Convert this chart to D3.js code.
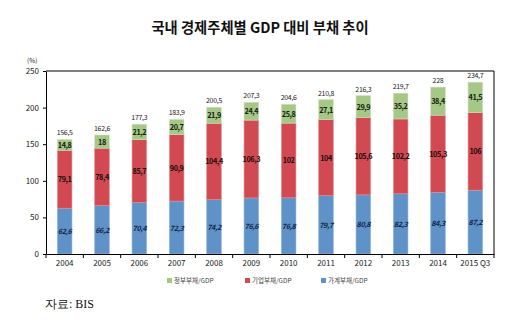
<!DOCTYPE html>
<html>
<head>
<meta charset="utf-8">
<script src="https://cdn.jsdelivr.net/npm/d3@7"></script>
<style>
body{margin:0;background:#fff;}
svg{display:block;}
</style>
</head>
<body>
<svg id="chart" width="520" height="323"></svg>
<script>
const categories = ["2004","2005","2006","2007","2008","2009","2010","2011","2012","2013","2014","2015 Q3"];
const household = [62.6,66.2,70.4,72.3,74.2,76.6,76.8,79.7,80.8,82.3,84.3,87.2];
const corporate = [79.1,78.4,85.7,90.9,104.4,106.3,102,104,105.6,102.2,105.3,106];
const government = [14.8,18,21.2,20.7,21.9,24.4,25.8,27.1,29.9,35.2,38.4,41.5];
const totals = [156.5,162.6,177.3,183.9,200.5,207.3,204.6,210.8,216.3,219.7,228,234.7];
const seriesNames = ["정부부채/GDP","기업부채/GDP","가계부채/GDP"];
const yTicks = [0,50,100,150,200,250];

const svg = d3.select("#chart");
const font = "'Noto Sans CJK KR','Noto Sans',sans-serif";
const colors = {gov:"#a6c887", corp:"#d14a52", house:"#5f92c6"};

const x = d3.scaleBand().domain(categories).range([46,494]).paddingInner(0.61).paddingOuter(0.305);
const y = d3.scaleLinear().domain([0,250]).range([254,71]);

const rows = categories.map((c,i)=>({cat:c, house:household[i], corp:corporate[i], gov:government[i], total:totals[i]}));
const stack = d3.stack().keys(["house","corp","gov"])(rows);
const fmt = v => String(v).replace(".", ",");

// title
svg.append("text").attr("x",260).attr("y",33).attr("text-anchor","middle")
  .attr("font-family",font).attr("font-weight",700).attr("font-size",14.3).attr("fill","#111")
  .text("국내 경제주체별 GDP 대비 부채 추이");

// unit
svg.append("text").attr("x",27).attr("y",63).attr("font-family",font).attr("font-size",6.5).attr("fill","#222").text("(%)");

// frame top & right
svg.append("line").attr("x1",46).attr("x2",494).attr("y1",y(250)).attr("y2",y(250)).attr("stroke","#000").attr("stroke-width",1);
svg.append("line").attr("x1",494).attr("x2",494).attr("y1",y(250)).attr("y2",y(0)).attr("stroke","#000").attr("stroke-width",1);

// bars
const keyColor = {house:colors.house, corp:colors.corp, gov:colors.gov};
const keyStroke = {house:"#8fb3d9", corp:"#e58a8f", gov:"#cfe0bd"};
stack.forEach(layer=>{
  svg.append("g").selectAll("rect").data(layer).join("rect")
    .attr("x",d=>x(d.data.cat)).attr("width",x.bandwidth())
    .attr("y",d=>y(d[1])).attr("height",d=>y(d[0])-y(d[1]))
    .attr("fill",keyColor[layer.key]).attr("stroke",keyStroke[layer.key]).attr("stroke-width",0.6);
});

// segment labels
const labelColor = {house:"#14284f", corp:"#1a0a0a", gov:"#142010"};
stack.forEach(layer=>{
  svg.append("g").selectAll("text").data(layer).join("text")
    .attr("x",d=>x(d.data.cat)+x.bandwidth()/2)
    .attr("y",d=>(y(d[0])+y(d[1]))/2 + 3)
    .attr("text-anchor","middle").attr("font-family",font).attr("font-size",7.3)
    .attr("font-weight",700).attr("letter-spacing",-0.4)
    .attr("font-style",layer.key==="house"?"italic":"normal")
    .attr("fill",labelColor[layer.key])
    .text(d=>fmt(d.data[layer.key]));
});

// totals
svg.append("g").selectAll("text").data(rows).join("text")
  .attr("x",d=>x(d.cat)+x.bandwidth()/2).attr("y",d=>y(d.total)-4)
  .attr("text-anchor","middle").attr("font-family",font).attr("font-size",7).attr("letter-spacing",-0.3)
  .attr("fill","#222").text(d=>fmt(d.total));

// y axis
const yAxis = svg.append("g").attr("transform","translate(46,0)")
  .call(d3.axisLeft(y).tickValues(yTicks).tickSize(3).tickPadding(4).tickSizeOuter(0));
yAxis.selectAll("text").attr("font-family",font).attr("font-size",8).attr("fill","#222");
yAxis.select(".domain").attr("stroke","#000");

// x axis
const xAxis = svg.append("g").attr("transform",`translate(0,${y(0)})`)
  .call(d3.axisBottom(x).tickSize(0).tickPadding(6).tickSizeOuter(0));
xAxis.select(".domain").attr("stroke","#000");
xAxis.selectAll("text").attr("font-family",font).attr("font-size",8).attr("fill","#222");
// boundary ticks
const bounds = categories.map(c=>x(c) - (x.step()-x.bandwidth())/2).concat([494]);
svg.append("g").selectAll("line").data(bounds).join("line")
  .attr("x1",d=>d).attr("x2",d=>d).attr("y1",y(0)).attr("y2",y(0)+4)
  .attr("stroke","#000").attr("stroke-width",1);

// legend
const legendX = [167,245,321];
const legendColors = [colors.gov, colors.corp, colors.house];
const lg = svg.append("g");
seriesNames.forEach((n,i)=>{
  lg.append("rect").attr("x",legendX[i]).attr("y",278).attr("width",5).attr("height",5).attr("fill",legendColors[i]);
  lg.append("text").attr("x",legendX[i]+7).attr("y",283).attr("font-family",font).attr("font-size",6.5)
    .attr("fill","#444").text(n);
});

// source
svg.append("text").attr("x",45).attr("y",308).attr("font-family","'Liberation Serif','DejaVu Serif',serif")
  .attr("font-size",12).attr("fill","#111").text("자료: BIS");
</script>
</body>
</html>
